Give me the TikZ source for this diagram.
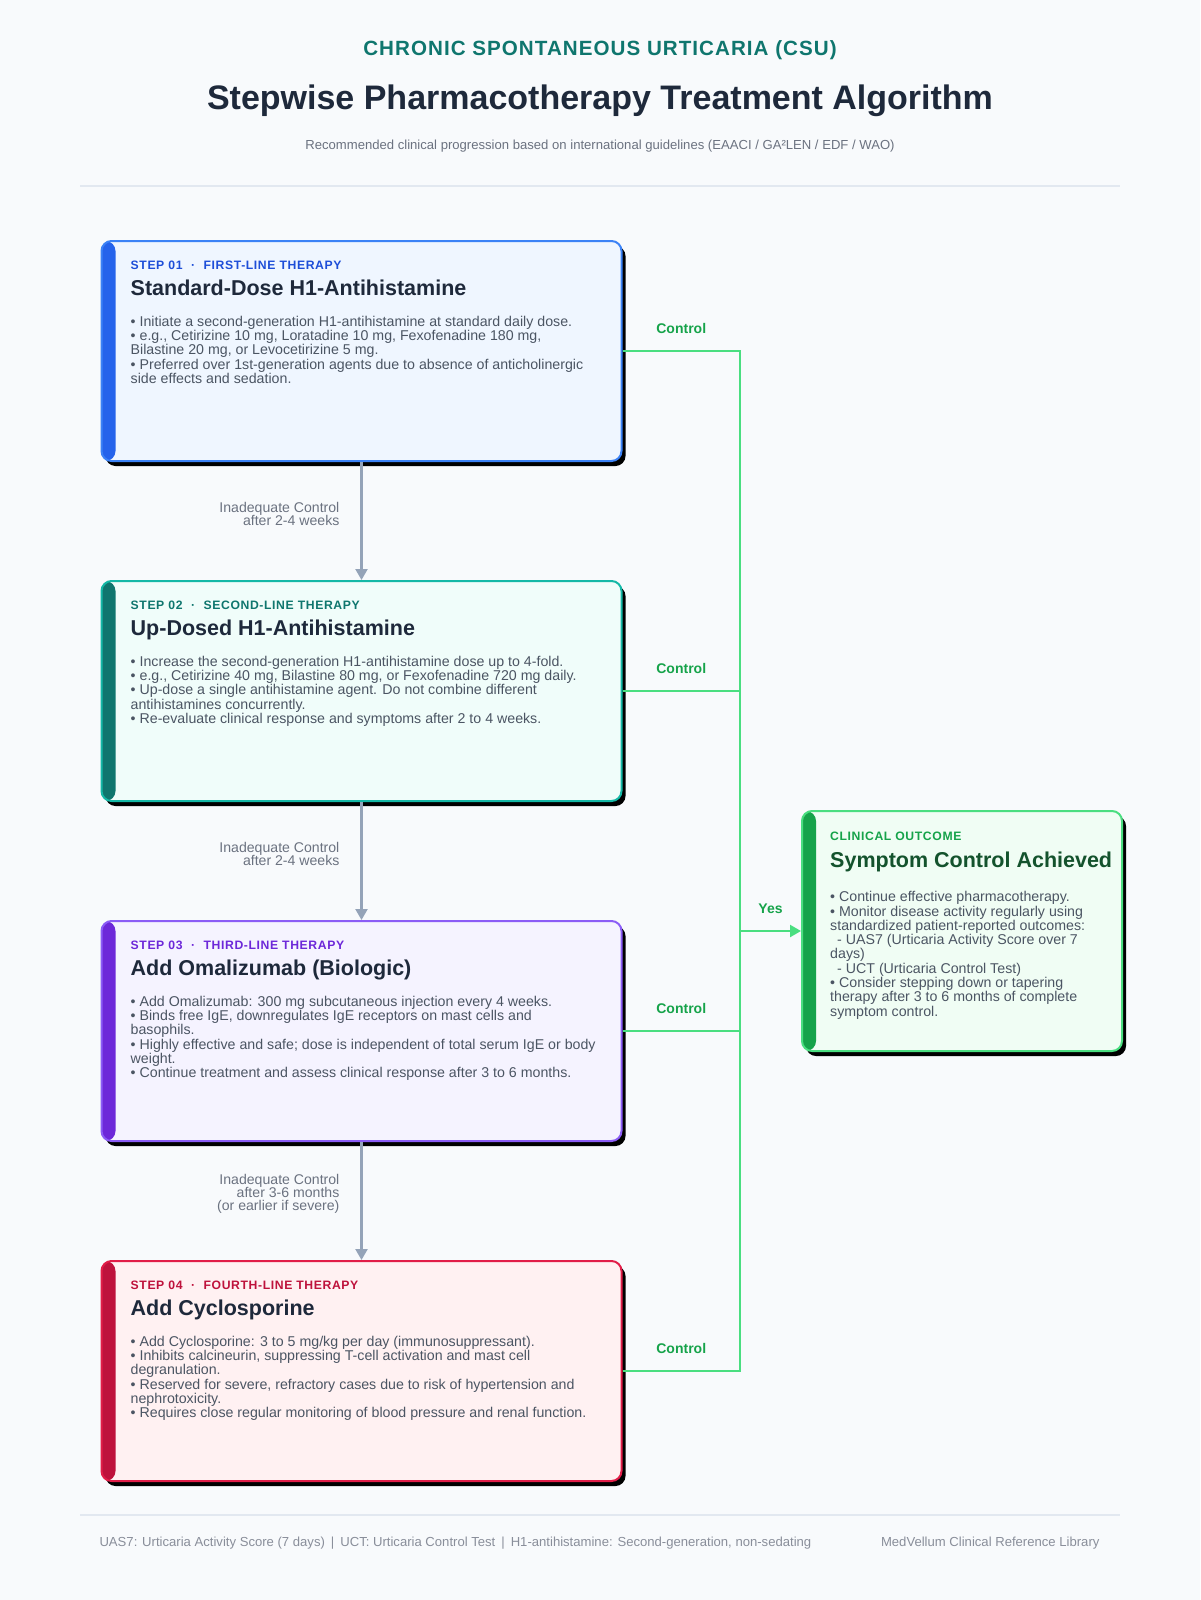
\documentclass[tikz,border=0pt]{standalone}
\usepackage{fontspec}
\setmainfont{Liberation Sans}
\newfontfamily\trackfont[LetterSpace=5]{Liberation Sans}
\usetikzlibrary{arrows.meta, positioning, calc, shadows}
\definecolor{bg}{HTML}{F8FAFC}
\definecolor{ink}{HTML}{1E293B}
\definecolor{body}{HTML}{4B5563}
\definecolor{muted}{HTML}{6B7280}
\definecolor{rule}{HTML}{E2E8F0}
\definecolor{csu}{HTML}{0F766E}
\definecolor{flow}{HTML}{94A3B8}
\definecolor{go}{HTML}{4ADE80}
\definecolor{golab}{HTML}{16A34A}
\definecolor{sAbar}{HTML}{2563EB}\definecolor{sAline}{HTML}{3B82F6}\definecolor{sAfill}{HTML}{EFF6FF}\definecolor{sAtxt}{HTML}{1D4ED8}
\definecolor{sBbar}{HTML}{0F766E}\definecolor{sBline}{HTML}{14B8A6}\definecolor{sBfill}{HTML}{F0FDFA}\definecolor{sBtxt}{HTML}{0F766E}
\definecolor{sCbar}{HTML}{6D28D9}\definecolor{sCline}{HTML}{8B5CF6}\definecolor{sCfill}{HTML}{F5F3FF}\definecolor{sCtxt}{HTML}{6D28D9}
\definecolor{sDbar}{HTML}{BE123C}\definecolor{sDline}{HTML}{E11D48}\definecolor{sDfill}{HTML}{FFF1F2}\definecolor{sDtxt}{HTML}{BE123C}
\definecolor{okbar}{HTML}{16A34A}\definecolor{okline}{HTML}{4ADE80}\definecolor{okfill}{HTML}{F0FDF4}\definecolor{oktxt}{HTML}{16A34A}
\definecolor{okttl}{HTML}{14532D}

\begin{document}
\begin{tikzpicture}[
    x=1pt, y=-1pt,
    >={Triangle[length=11pt, width=12pt]},
    card/.style={rectangle, rounded corners=10pt, line width=2pt, inner sep=0pt,
                 minimum width=520pt, minimum height=220pt, draw=#1line, fill=#1fill,
                 drop shadow={shadow xshift=4pt, shadow yshift=-5pt, fill=black, opacity=1},
                 path picture={\fill[#1bar] (path picture bounding box.north west)
                     rectangle ([xshift=14pt]path picture bounding box.south west);}},
    hdr/.style={anchor=base west, inner sep=0pt, font=\trackfont\fontsize{12.2}{14}\selectfont\bfseries},
    ttl/.style={anchor=base west, inner sep=0pt, text=ink, font=\fontsize{21.5}{25}\selectfont\bfseries},
    bdy/.style={anchor=north west, inner sep=0pt, align=left, text=body, font=\fontsize{14.2}{14.3}\selectfont},
    flowline/.style={->, line width=2.2pt, draw=flow},
    note/.style={align=right, inner sep=0pt, text=muted, font=\fontsize{14.1}{13.3}\selectfont},
    ctl/.style={line width=2.2pt, draw=go},
    ctllab/.style={above=16pt, inner sep=0pt, text=golab, font=\fontsize{14}{15}\selectfont\bfseries},
]
\useasboundingbox (0,0) rectangle (1200,1600);
\fill[bg] (0,0) rectangle (1200,1600);

% heading
\node[text=csu, font=\trackfont\fontsize{20.6}{24}\selectfont\bfseries] (kicker) at (600,50) {CHRONIC SPONTANEOUS URTICARIA (CSU)};
\node[text=ink, font=\fontsize{34}{40}\selectfont\bfseries] (title) at (600,101) {Stepwise Pharmacotherapy Treatment Algorithm};
\node[text=muted, font=\fontsize{13.1}{16}\selectfont] (sub) at (600,146) {Recommended clinical progression based on international guidelines (EAACI / GA²LEN / EDF / WAO)};
\draw[rule, line width=1.5pt] (80,186) -- (1120,186);

% steps
\node[card=sA] (s1) at (361.5,351) {};
\node[hdr, text=sAtxt] (s1h) at ($(s1.north west)+(30,29.5)$) {STEP 01\hspace{8.5pt}·\hspace{8.5pt}FIRST-LINE THERAPY};
\node[ttl] (s1t) at ($(s1.north west)+(30,55.5)$) {Standard-Dose H1-Antihistamine};
\node[bdy] (s1b) at ($(s1.north west)+(30,75.7)$) {• Initiate a second-generation H1-antihistamine at standard daily dose.\\
• e.g., Cetirizine 10 mg, Loratadine 10 mg, Fexofenadine 180 mg,\\
Bilastine 20 mg, or Levocetirizine 5 mg.\\
• Preferred over 1st-generation agents due to absence of anticholinergic\\
side effects and sedation.};

\node[card=sB] (s2) at (361.5,691) {};
\node[hdr, text=sBtxt] (s2h) at ($(s2.north west)+(30,29.5)$) {STEP 02\hspace{8.5pt}·\hspace{8.5pt}SECOND-LINE THERAPY};
\node[ttl] (s2t) at ($(s2.north west)+(30,55.5)$) {Up-Dosed H1-Antihistamine};
\node[bdy] (s2b) at ($(s2.north west)+(30,75.7)$) {• Increase the second-generation H1-antihistamine dose up to 4-fold.\\
• e.g., Cetirizine 40 mg, Bilastine 80 mg, or Fexofenadine 720 mg daily.\\
• Up-dose a single antihistamine agent. Do not combine different\\
antihistamines concurrently.\\
• Re-evaluate clinical response and symptoms after 2 to 4 weeks.};

\node[card=sC] (s3) at (361.5,1031) {};
\node[hdr, text=sCtxt] (s3h) at ($(s3.north west)+(30,29.5)$) {STEP 03\hspace{8.5pt}·\hspace{8.5pt}THIRD-LINE THERAPY};
\node[ttl] (s3t) at ($(s3.north west)+(30,55.5)$) {Add Omalizumab (Biologic)};
\node[bdy] (s3b) at ($(s3.north west)+(30,75.7)$) {• Add Omalizumab: 300 mg subcutaneous injection every 4 weeks.\\
• Binds free IgE, downregulates IgE receptors on mast cells and\\
basophils.\\
• Highly effective and safe; dose is independent of total serum IgE or body\\
weight.\\
• Continue treatment and assess clinical response after 3 to 6 months.};

\node[card=sD] (s4) at (361.5,1371) {};
\node[hdr, text=sDtxt] (s4h) at ($(s4.north west)+(30,29.5)$) {STEP 04\hspace{8.5pt}·\hspace{8.5pt}FOURTH-LINE THERAPY};
\node[ttl] (s4t) at ($(s4.north west)+(30,55.5)$) {Add Cyclosporine};
\node[bdy] (s4b) at ($(s4.north west)+(30,75.7)$) {• Add Cyclosporine: 3 to 5 mg/kg per day (immunosuppressant).\\
• Inhibits calcineurin, suppressing T-cell activation and mast cell\\
degranulation.\\
• Reserved for severe, refractory cases due to risk of hypertension and\\
nephrotoxicity.\\
• Requires close regular monitoring of blood pressure and renal function.};

% outcome
\node[card=ok, minimum width=320pt, minimum height=240pt] (out) at (962,931) {};
\node[hdr, text=oktxt] (outh) at ($(out.north west)+(29,30)$) {CLINICAL OUTCOME};
\node[ttl, text=okttl] (outt) at ($(out.north west)+(29,57)$) {Symptom Control Achieved};
\node[bdy] (outb) at ($(out.north west)+(29,81.2)$) {• Continue effective pharmacotherapy.\\
• Monitor disease activity regularly using\\
standardized patient-reported outcomes:\\
\hspace{7pt}- UAS7 (Urticaria Activity Score over 7\\
days)\\
\hspace{7pt}- UCT (Urticaria Control Test)\\
• Consider stepping down or tapering\\
therapy after 3 to 6 months of complete\\
symptom control.};

% escalation
\draw[flowline] (s1) -- (s2) node[midway, left=21pt, yshift=7pt, note] {Inadequate Control\\after 2-4 weeks};
\draw[flowline] (s2) -- (s3) node[midway, left=21pt, yshift=7pt, note] {Inadequate Control\\after 2-4 weeks};
\draw[flowline] (s3) -- (s4) node[midway, left=21pt, yshift=7pt, note] {Inadequate Control\\after 3-6 months\\(or earlier if severe)};

% control bus
\coordinate (bus) at (740,0);
\draw[ctl] (s1.east) -- (s1.east -| bus) node[midway, ctllab] {Control};
\draw[ctl] (s2.east) -- (s2.east -| bus) node[midway, ctllab] {Control};
\draw[ctl] (s3.east) -- (s3.east -| bus) node[midway, ctllab] {Control};
\draw[ctl] (s4.east) -- (s4.east -| bus) node[midway, ctllab] {Control};
\draw[ctl, line cap=rect] (s1.east -| bus) -- (s4.east -| bus);
\draw[ctl, ->, go] (out.west -| bus) -- (out.west) node[midway, ctllab] {Yes};

% footer
\draw[rule, line width=1.5pt] (80,1515) -- (1120,1515);
\node[anchor=base west, text=muted!80, font=\fontsize{13.1}{15}\selectfont] (foot) at (96,1546)
    {UAS7: Urticaria Activity Score (7 days)\hspace{6pt}|\hspace{6pt}UCT: Urticaria Control Test\hspace{6pt}|\hspace{6pt}H1-antihistamine: Second-generation, non-sedating};
\node[anchor=base east, text=muted!80, font=\fontsize{13.1}{15}\selectfont] (lib) at (1103,1546) {MedVellum Clinical Reference Library};
\end{tikzpicture}
\end{document}
